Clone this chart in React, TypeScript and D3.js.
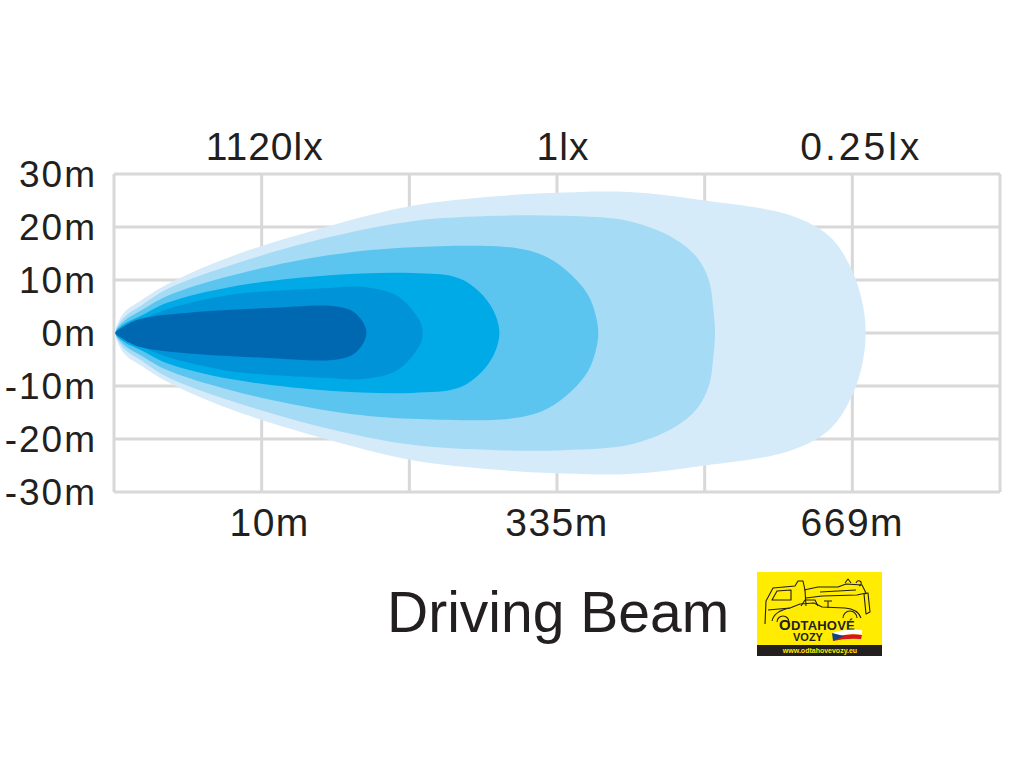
import * as d3 from "d3";

const W = 1024;
const H = 768;

// y axis (lateral spread)
const yTicks = [30, 20, 10, 0, -10, -20, -30];
const yTickLabels = ["30m", "20m", "10m", "0m", "-10m", "-20m", "-30m"];

// x grid columns (distance)
const xGrid = [0, 1, 2, 3, 4, 5, 6];
const labelCols = [1, 3, 5];
const distanceLabels = ["10m", "335m", "669m"];
const luxLabels = ["1120lx", "1lx", "0.25lx"];

// beam zones, outermost first: [column, half-width in m]
const zone1: [number, number][] = [
  [0.01, 0], [0.07, 3.9], [0.18, 6.1], [0.36, 9.2], [0.79, 14.4], [1.46, 20.2],
  [2.02, 24.0], [2.59, 25.8], [3.05, 26.5], [3.49, 26.6], [4.0, 25.0],
  [4.58, 22.2], [4.85, 18.1], [5.0, 11.7], [5.07, 5.5], [5.09, 0],
];
const zone2: [number, number][] = [
  [0.01, 0], [0.07, 3.0], [0.18, 5.1], [0.36, 8.3], [0.79, 12.8], [1.46, 18.1],
  [2.02, 21.1], [2.59, 22.1], [3.05, 22.1], [3.49, 21.1], [3.79, 17.9],
  [3.95, 14.2], [4.03, 9.8], [4.06, 4.2], [4.07, 0],
];
const zone3: [number, number][] = [
  [0.01, 0], [0.07, 2.3], [0.18, 4.2], [0.36, 7.0], [0.79, 10.8], [1.46, 14.7],
  [2.02, 16.2], [2.73, 16.0], [2.94, 14.2], [3.1, 10.9], [3.21, 7.2],
  [3.26, 3.6], [3.28, 0],
];
const zone4: [number, number][] = [
  [0.01, 0], [0.07, 1.7], [0.18, 3.2], [0.36, 5.7], [0.79, 8.7], [1.46, 10.9],
  [2.02, 11.3], [2.33, 10.4], [2.47, 7.9], [2.57, 4.2], [2.61, 0],
];
const zone5: [number, number][] = [
  [0.01, 0], [0.07, 1.3], [0.18, 2.5], [0.36, 4.5], [0.79, 7.2], [1.46, 8.5],
  [1.69, 8.7], [1.92, 7.0], [2.07, 2.3], [2.09, 0],
];
const zone6: [number, number][] = [
  [0.01, 0], [0.05, 0.9], [0.14, 2.3], [0.24, 3.0], [0.58, 4.0], [1.04, 4.7],
  [1.48, 5.1], [1.61, 4.2], [1.68, 2.3], [1.71, 0],
];
const zones = [zone1, zone2, zone3, zone4, zone5, zone6];
const zoneColours = ["#d6ebfa", "#a6dbf5", "#5bc5f0", "#00aae7", "#0093d8", "#0068b1"];

const x = d3.scaleLinear().domain([0, 6]).range([114, 1000]);
const y = d3.scaleLinear().domain([-30, 30]).range([492, 174]);

const beamLine = d3
  .line<[number, number]>()
  .x((d) => x(d[0]))
  .y((d) => y(d[1]))
  .curve(d3.curveCatmullRomClosed.alpha(0.5));

// mirror the upper profile to get a closed outline
function outline(pts: [number, number][]) {
  const upper = pts.map(([u, m]) => [u, m] as [number, number]);
  const lower = pts
    .slice(1, -1)
    .reverse()
    .map(([u, m]) => [u, -m] as [number, number]);
  return beamLine(upper.concat(lower)) || "";
}

const font = "'Liberation Sans', Arial, sans-serif";
const ink = "#231f20";
const gridColour = "#d8d8d8";

const Logo = () => (
  <g>
    <rect x={757} y={572} width={125} height={74} fill="#ffec00" />
    <rect x={757} y={645} width={125} height={11} fill="#231f20" />
    <text x={820} y={653} textAnchor="middle" fontSize={7} fontWeight="bold" fill="#ffec00" fontFamily={font}>
      www.odtahovevozy.eu
    </text>
    <g fill="none" stroke="#231f20" strokeWidth={1.1} strokeLinejoin="round">
      {/* tow truck cab */}
      <path d="M765,624 L766,601 L773,588 L795,586 L798,581 L803,581 L805,590 L806,606" />
      <path d="M772,600 L777,591 L791,590 L791,600 Z" />
      <path d="M768,610 L790,608" />
      {/* boom */}
      <path d="M804,590 L818,587 L838,587 L846,584 L862,585 L866,593 L857,595 L822,596 L806,598" />
      <path d="M820,592 L856,590" />
      <path d="M856,583 q2,-4 5,-1 q1,3 -2,4" />
      <path d="M845,583 l3,-4 l3,4" />
      {/* rear post */}
      <path d="M864,594 L868,593 L870,612 L866,614 Z" />
      {/* car */}
      <path d="M772,621 Q774,611 790,608 L800,604 L814,603 L822,607 L845,608 Q858,609 861,618" />
      <path d="M801,606 L805,600 L815,600 L818,606" />
      <path d="M824,601 L832,601 M828,601 L828,608" />
      <path d="M777,622 a6,6 0 0 1 12,0" />
      <path d="M843,618 a7,7 0 0 1 14,0" />
    </g>
    <text x={779} y={630} fontSize={13} fontWeight="bold" fill="#231f20" fontFamily={font} letterSpacing={0.2}>
      <tspan fontSize={15}>O</tspan>DTAHOVÉ
    </text>
    <text x={793} y={641} fontSize={11} fontWeight="bold" fill="#231f20" fontFamily={font}>
      VOZY
    </text>
    {/* flag swoosh */}
    <path d="M832,633 Q845,628 862,630 L862,635 Q848,633 836,637 Z" fill="#ffffff" />
    <path d="M836,637 Q848,633 862,635 L861,639 Q846,638 833,641 Z" fill="#d7141a" />
    <path d="M832,633 L844,636 L833,641 Z" fill="#11457e" />
  </g>
);

export default function App() {
  return (
    <div style={{ position: "absolute", left: 0, top: 0, width: W, height: H, background: "#fff" }}>
      <svg width={W} height={H} viewBox={`0 0 ${W} ${H}`}>
        <rect x={0} y={0} width={W} height={H} fill="#ffffff" />

        {/* grid */}
        <g stroke={gridColour} strokeWidth={3}>
          {yTicks.map((t) => (
            <line key={`h${t}`} x1={x(0)} x2={x(6)} y1={y(t)} y2={y(t)} />
          ))}
          {xGrid.map((c) => (
            <line key={`v${c}`} x1={x(c)} x2={x(c)} y1={y(30)} y2={y(-30)} />
          ))}
        </g>

        {/* beam zones */}
        <g>
          {zones.map((z, i) => (
            <path key={i} d={outline(z)} fill={zoneColours[i]} />
          ))}
        </g>

        {/* y labels */}
        <g fontFamily={font} fontSize={37} fill={ink} textAnchor="end" letterSpacing={2}>
          {yTicks.map((t, i) => (
            <text key={t} x={97} y={y(t) + 13}>
              {yTickLabels[i]}
            </text>
          ))}
        </g>

        {/* lux labels */}
        <g fontFamily={font} fontSize={39} fill={ink} textAnchor="middle" letterSpacing={1}>
          {labelCols.map((c, i) => (
            <text key={c} x={x(c) + 3 * i + 3} y={160} letterSpacing={i === 2 ? 3 : 1}>
              {luxLabels[i]}
            </text>
          ))}
        </g>

        {/* distance labels */}
        <g fontFamily={font} fontSize={39} fill={ink} textAnchor="middle" letterSpacing={1.5}>
          {labelCols.map((c, i) => (
            <text key={c} x={x(c) + (i === 0 ? 8 : 0)} y={536}>
              {distanceLabels[i]}
            </text>
          ))}
        </g>

        <text x={387} y={632} fontFamily={font} fontSize={57} fill={ink}>
          Driving Beam
        </text>

        <Logo />
      </svg>
    </div>
  );
}
